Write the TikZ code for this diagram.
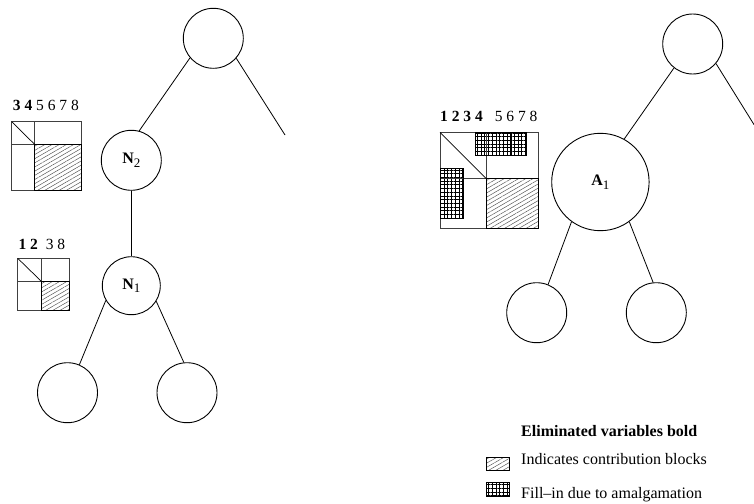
\documentclass[tikz,border=0pt]{standalone}
\usepackage{fontspec}
\setmainfont{Liberation Serif}
\usetikzlibrary{patterns.meta}
\tikzset{
  treenode/.style={circle, draw, line width=0.9pt, minimum size=60pt, inner sep=0pt,
    font=\fontsize{16}{19}\selectfont},
  edge/.style={line width=0.8pt},
  mline/.style={line width=0.8pt, black!75},
  hatchfill/.style={pattern={Lines[angle=30,distance=3.6pt,line width=0.45pt]}, pattern color=black!70},
  gridfill/.style={pattern={Hatch[angle=0,distance=3.7pt,line width=0.6pt]}, pattern color=black},
  lbl/.style={font=\fontsize{15.5}{18}\selectfont, inner sep=0pt, anchor=base west},
  legtext/.style={font=\fontsize{16}{19}\selectfont, inner sep=0pt, anchor=base west},
}
\newcommand{\subl}[2]{{\bfseries #1}\raisebox{-3.5pt}{\fontsize{13}{13}\selectfont #2}}
\begin{document}
\begin{tikzpicture}[x=1pt,y=-1pt]
\useasboundingbox (0,0) rectangle (754,503);
% ---------- left tree ----------
\node[treenode] (T1) at (213.3,38.3) {};
\node[treenode] (N2) at (131.3,160.3) {\subl{N}{2}};
\node[treenode, minimum size=58pt] (N1) at (131.3,285.7) {\subl{N}{1}};
\node[treenode] (L1) at (67.5,392.7) {};
\node[treenode] (L2) at (187,392.7) {};
\coordinate (T1free) at (285,135);
\draw[edge] (T1.220.6) -- (N2.75);
\draw[edge] (T1.319.6) -- (T1free);
\draw[edge] (N2.south) -- (N1.north);
\draw[edge] (N1.210) -- (L1.67);
\draw[edge] (N1.328.5) -- (L2.96);
% ---------- right tree ----------
\node[treenode] (T2) at (692.7,44) {};
\node[treenode, minimum size=97.4pt] (A1) at (600.4,182) {\subl{A}{1}};
\node[treenode] (R1) at (536.7,312.7) {};
\node[treenode] (R2) at (656.3,312.7) {};
\coordinate (T2free) at (754,124.6);
\draw[edge] (T2.232.2) -- (A1.61);
\draw[edge] (T2.320.3) -- (T2free);
\draw[edge] (A1.234) -- (R1.68.5);
\draw[edge] (A1.306) -- (R2.96);
% ---------- matrix for N2 ----------
\node[lbl] (M1lab) at (12.7,110.7) {\textbf{3 4} 5 6 7 8};
\fill[hatchfill] (34.8,144.5) rectangle (81,190);
\draw[mline] (11.7,121.7) rectangle (81,190);
\draw[mline] (34.8,121.7) -- (34.8,190);
\draw[mline] (11.7,144.5) -- (81,144.5);
\draw[line width=0.7pt] (11.7,121.7) -- (34.8,144.5);
\draw[line width=0.9pt] (34.8,144.5) rectangle (81,190);
% ---------- matrix for N1 ----------
\node[lbl] (M2lab) at (18.3,249.3) {\textbf{1 2}\hspace{8pt}3 8};
\fill[hatchfill] (41.7,281.7) rectangle (69.3,310);
\draw[mline] (17.7,258.3) rectangle (69.3,310);
\draw[mline] (41.7,258.3) -- (41.7,310);
\draw[mline] (17.7,281.7) -- (69.3,281.7);
\draw[line width=0.7pt] (17.7,258.3) -- (41.7,281.7);
\draw[line width=0.9pt] (41.7,281.7) rectangle (69.3,310);
% ---------- matrix for A1 ----------
\node[lbl] (M3lab) at (440,121.7) {\textbf{1 2 3 4}\hspace{12pt}5 6 7 8};
\fill[hatchfill] (486,178.3) rectangle (538.3,228.3);
\fill[gridfill] (475,132.3) rectangle (526.7,155);
\fill[gridfill] (440,168.3) rectangle (463.3,218.3);
\draw[mline] (440,132.3) rectangle (538.3,228.3);
\draw[mline] (486,132.3) -- (486,228.3);
\draw[mline] (440,178.3) -- (538.3,178.3);
\draw[line width=0.7pt] (440,132.3) -- (486,178.3);
\draw[line width=0.9pt] (486,178.3) rectangle (538.3,228.3);
\draw[line width=0.9pt] (475,132.3) rectangle (526.7,155);
\draw[line width=0.9pt] (511,132.3) -- (511,155);
\draw[line width=0.9pt] (440,168.3) rectangle (463.3,218.3);
% ---------- legend ----------
\node[legtext] (leg0) at (521,436) {\textbf{Eliminated variables bold}};
\fill[hatchfill] (486,457) rectangle (509,470);
\draw[line width=0.8pt] (486,457) rectangle (509,470);
\node[legtext] (leg1) at (521,464) {Indicates contribution blocks};
\fill[gridfill] (486,482) rectangle (509,496);
\draw[line width=0.8pt] (486,482) rectangle (509,496);
\node[legtext] (leg2) at (521,498) {Fill--in due to amalgamation};
\end{tikzpicture}
\end{document}
